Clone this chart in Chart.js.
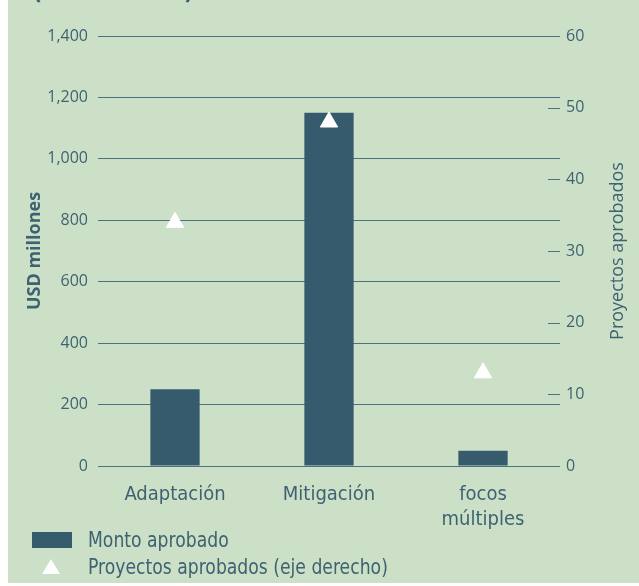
<!DOCTYPE html>
<html>
<head>
<meta charset="utf-8">
<script src="https://cdn.jsdelivr.net/npm/chart.js@4.4.1/dist/chart.umd.min.js"></script>
<style>
  body { margin: 0; background: #fff; }
  #panel { position: absolute; left: 8px; top: 0; width: 631px; height: 583px; background: #cbe0c7; overflow: hidden; }
  #title { position: absolute; left: 25px; top: -24px; line-height: 25px; white-space: nowrap;
    font: bold 25px "Liberation Sans Narrow", "DejaVu Sans Condensed", sans-serif; color: #365b6d;
    transform: scaleX(0.85); transform-origin: left top; }
  #chartBox { position: absolute; left: 0; top: 0; width: 631px; height: 530px; }
  #legend { position: absolute; left: 24px; top: 526px; color: #3e6272;
    font: 22px "Liberation Sans Narrow", "DejaVu Sans Condensed", sans-serif; }
  .item { display: flex; align-items: center; height: 27px; }
  .item span { display: inline-block; transform: scaleX(0.87); transform-origin: left center; white-space: nowrap; }
  .swatch { width: 40px; height: 16px; background: #365b6d; margin-right: 16px; }
  .tri { width: 0; height: 0; border-left: 9px solid transparent; border-right: 9px solid transparent;
    border-bottom: 15px solid #fff; margin: 0 28px 0 10px; }
</style>
</head>
<body>
<div id="panel">
  <div id="title">(USD millones)</div>
  <div id="chartBox"><canvas id="chart"></canvas></div>
  <div id="legend"></div>
</div>
<script>
// data
var categories = ['Adaptación', 'Mitigación', ['focos', 'múltiples']];
var montoAprobado = [250, 1150, 50];        // USD millones (left axis)
var proyectosAprobados = [34, 48, 13];      // number of projects (right axis)
var seriesNames = ['Monto aprobado', 'Proyectos aprobados (eje derecho)'];
var leftTitle = 'USD millones';
var rightTitle = 'Proyectos aprobados';

var barColor = '#365b6d';
var textColor = '#3e6272';
var gridColor = '#4d7180';
var narrowFont = '"Liberation Sans Narrow", "DejaVu Sans Condensed", sans-serif';

// right axis: short tick dashes inside the plot and a bottom-to-top title
var rightAxisExtras = {
    id: 'rightAxisExtras',
    afterDraw: function (chart) {
        var ctx = chart.ctx, area = chart.chartArea, y2 = chart.scales.y2;
        ctx.save();
        ctx.strokeStyle = gridColor;
        ctx.lineWidth = 1;
        y2.ticks.forEach(function (t) {
            var py = Math.round(y2.getPixelForValue(t.value)) + 0.5;
            ctx.beginPath();
            ctx.moveTo(area.right - 12, py);
            ctx.lineTo(area.right, py);
            ctx.stroke();
        });
        ctx.fillStyle = textColor;
        ctx.font = '18px "Open Sans"';
        ctx.textAlign = 'center';
        ctx.textBaseline = 'middle';
        ctx.translate(area.right + 58, (area.top + area.bottom) / 2);
        ctx.rotate(-Math.PI / 2);
        ctx.fillText(rightTitle, 0, 0);
        ctx.restore();
    }
};

var ctx = document.getElementById('chart').getContext('2d');
var chart = new Chart(ctx, {
    type: 'bar',
    data: {
        labels: categories,
        datasets: [{
            type: 'line',
            label: seriesNames[1],
            data: proyectosAprobados,
            yAxisID: 'y2',
            showLine: false,
            pointStyle: 'triangle',
            pointRadius: 10,
            pointHoverRadius: 10,
            pointBackgroundColor: '#fff',
            pointBorderColor: '#fff',
            pointBorderWidth: 1,
            order: 0
        }, {
            label: seriesNames[0],
            data: montoAprobado,
            yAxisID: 'y',
            backgroundColor: barColor,
            categoryPercentage: 1,
            barPercentage: 0.32,
            order: 1
        }]
    },
    options: {
        responsive: true,
        maintainAspectRatio: false,
        animation: false,
        locale: 'en-US',
        layout: { padding: { top: 36, left: 0, right: 0, bottom: 0 } },
        plugins: {
            legend: { display: false },
            tooltip: { enabled: false }
        },
        scales: {
            x: {
                grid: { display: false },
                border: { display: false },
                ticks: { color: textColor, font: { family: narrowFont, size: 20, lineHeight: 1.25 },
                    padding: 8, maxRotation: 0, autoSkip: false },
                afterFit: function (s) { s.height = 64; }
            },
            y: {
                position: 'left',
                min: 0, max: 1400,
                ticks: { stepSize: 200, padding: 10, color: textColor, font: { family: 'Open Sans', size: 16 } },
                grid: { color: gridColor, lineWidth: 1, drawTicks: false },
                border: { display: false },
                title: { display: true, text: leftTitle, color: textColor,
                    font: { family: 'Open Sans', size: 18, weight: 'bold' }, padding: { top: 16, bottom: 0 } },
                afterFit: function (s) { s.width = 90; }
            },
            y2: {
                position: 'right',
                min: 0, max: 60,
                ticks: { stepSize: 10, padding: 6, color: textColor, font: { family: 'Open Sans', size: 16 } },
                grid: { drawOnChartArea: false, drawTicks: false },
                border: { display: false },
                afterFit: function (s) { s.width = 79; }
            }
        }
    },
    plugins: [rightAxisExtras]
});

// legend under the chart, one row per series
var legend = document.getElementById('legend');
legend.innerHTML =
    '<div class="item"><div class="swatch"></div><span>' + seriesNames[0] + '</span></div>' +
    '<div class="item"><div class="tri"></div><span>' + seriesNames[1] + '</span></div>';
</script>
</body>
</html>
